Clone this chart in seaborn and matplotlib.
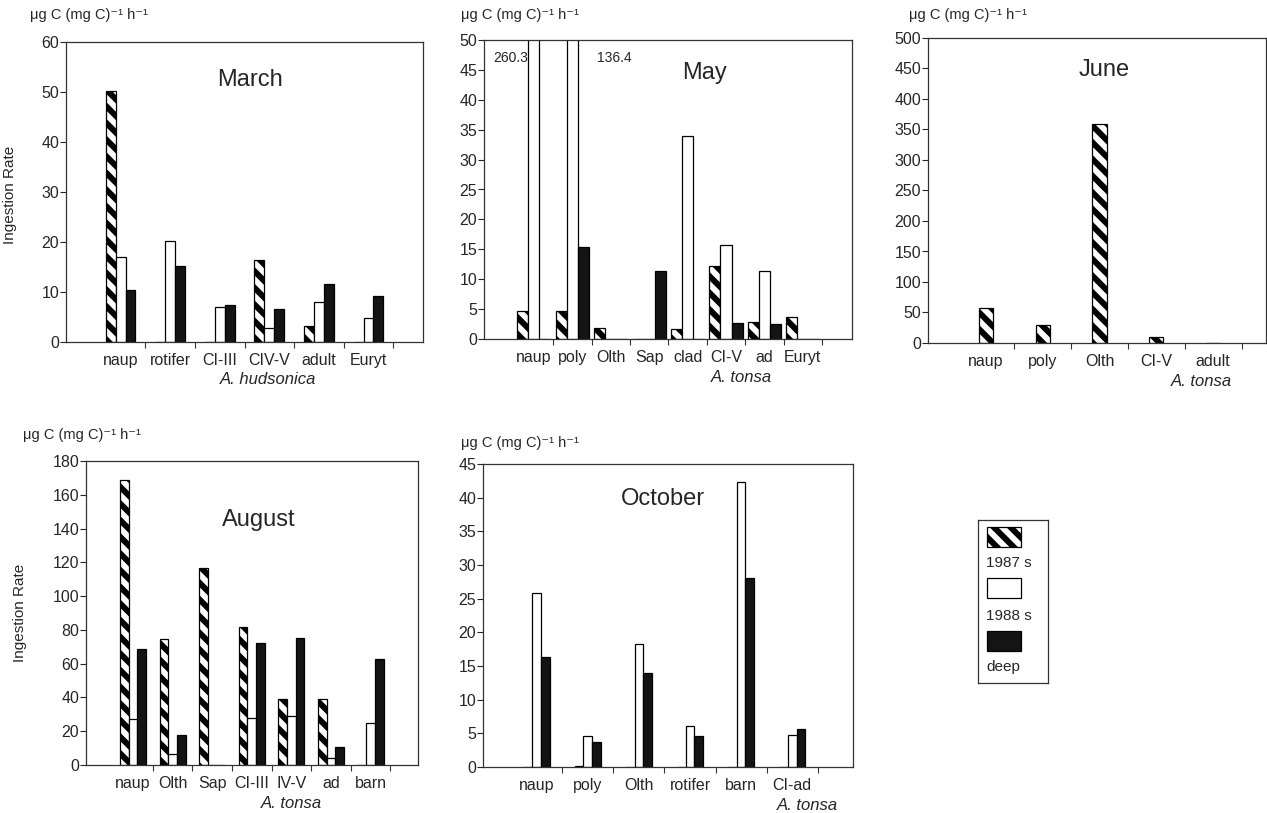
import matplotlib
matplotlib.use("Agg")
import matplotlib.pyplot as plt
from matplotlib.patches import Rectangle
import seaborn as sns
import numpy as np
import pandas as pd

series = ["1987 s", "1988 s", "deep"]
colors = {"1987 s": "white", "1988 s": "white", "deep": "#141414"}

# March, A. hudsonica
march_cats = ["naup", "rotifer", "CI-III", "CIV-V", "adult", "Euryt"]
march_1987 = [50.2, 0, 0, 16.3, 3.1, 0]
march_1988 = [16.9, 20.1, 7.0, 2.7, 8.0, 4.7]
march_deep = [10.4, 15.2, 7.3, 6.5, 11.5, 9.2]

# May, A. tonsa (1988 s naup and poly run off the axis)
may_cats = ["naup", "poly", "Olth", "Sap", "clad", "CI-V", "ad", "Euryt"]
may_1987 = [4.6, 4.6, 1.9, 0, 1.6, 12.2, 2.9, 3.6]
may_1988 = [260.3, 136.4, 0, 0, 33.9, 15.8, 11.3, 0]
may_deep = [0, 15.4, 0, 11.4, 0, 2.7, 2.5, 0]

# June, A. tonsa (1987 s only)
june_cats = ["naup", "poly", "Olth", "CI-V", "adult"]
june_1987 = [57, 29, 359, 10, 0]

# August, A. tonsa
aug_cats = ["naup", "Olth", "Sap", "CI-III", "IV-V", "ad", "barn"]
aug_1987 = [169, 74.4, 116.5, 81.6, 39.3, 38.8, 0]
aug_1988 = [27, 6.5, 0, 28, 29, 4.3, 24.7]
aug_deep = [68.8, 17.6, 0, 72.3, 75.4, 10.4, 62.6]

# October, A. tonsa
oct_cats = ["naup", "poly", "Olth", "rotifer", "barn", "CI-ad"]
oct_1987 = [0, 0.1, 0, 0, 0, 0]
oct_1988 = [25.9, 4.6, 18.2, 6.1, 42.3, 4.8]
oct_deep = [16.4, 3.7, 14.0, 4.6, 28.0, 5.6]

sns.set_theme(style="ticks")
plt.rcParams["font.family"] = ["Liberation Sans", "DejaVu Sans"]
plt.rcParams["hatch.linewidth"] = 4.3
plt.rcParams["hatch.color"] = "black"
HATCH = "\\\\"

W, H = 1267, 813
fig = plt.figure(figsize=(W / 100, H / 100), dpi=100)
fig.patch.set_facecolor("white")


def px_axes(l, t, r, b):
    return fig.add_axes([l / W, (H - b) / H, (r - l) / W, (b - t) / H])


unit = "μg C (mg C)⁻¹ h⁻¹"


def panel(ax, cats, data, width, xlim, ymax, ystep, title, tpos,
          xlab, xlpos, uoff, ylab=None, ylpos=None):
    names = list(data.keys())
    rows = [(c, s, v) for s in names for c, v in zip(cats, data[s])]
    df = pd.DataFrame(rows, columns=["cat", "series", "rate"])
    sns.barplot(df, x="cat", y="rate", hue="series", hue_order=names,
                order=cats, palette=colors, width=width, saturation=1,
                edgecolor="black", linewidth=0.9, errorbar=None,
                legend=False, ax=ax)
    for cont, name in zip(ax.containers, names):
        if name == "1987 s":
            for bar in cont:
                bar.set_hatch(HATCH)
    ax.set_xlim(*xlim)
    ax.set_ylim(0, ymax)
    ax.set_yticks(np.arange(0, ymax + ystep / 2, ystep))
    ax.set_xticks(np.arange(len(cats)) + 0.5, minor=True)
    ax.tick_params(axis="x", which="major", length=0, labelsize=11.5, pad=8)
    ax.tick_params(axis="x", which="minor", length=4, width=0.8,
                   direction="out", color="#333333")
    ax.tick_params(axis="y", length=4, width=0.8, labelsize=11.5, pad=1)
    for sp in ax.spines.values():
        sp.set_visible(True)
        sp.set_linewidth(0.9)
        sp.set_color("#333333")
    ax.set_xlabel("")
    ax.set_ylabel("")
    ax.text(tpos[0], tpos[1], title, transform=ax.transAxes, fontsize=17,
            ha="center", va="center")
    ax.annotate(xlab, xy=(xlpos, 0), xycoords="axes fraction",
                xytext=(0, -38), textcoords="offset pixels", fontsize=12,
                style="italic", ha="center", va="center")
    ax.annotate(unit, xy=(0, 1), xycoords="axes fraction",
                xytext=uoff, textcoords="offset pixels", fontsize=10.5,
                ha="left", va="center")
    if ylab:
        ax.set_ylabel(ylab, fontsize=11)
        ax.yaxis.set_label_coords(*ylpos)
    ax.set_facecolor("white")


ax1 = px_axes(66, 42, 423, 342)
panel(ax1, march_cats,
      {"1987 s": march_1987, "1988 s": march_1988, "deep": march_deep},
      0.6, (-1.1, 6.1), 60, 10, "March", (0.515, 0.873),
      "A. hudsonica", 0.566, (-36, 27), "Ingestion Rate", (-0.137, 0.49))

ax2 = px_axes(484, 40, 852, 339)
panel(ax2, may_cats,
      {"1987 s": may_1987, "1988 s": may_1988, "deep": may_deep},
      0.86, (-1.3, 8.28), 50, 5, "May", (0.60, 0.89),
      "A. tonsa", 0.70, (-23, 25))
# values of the clipped bars
tall = ax2.containers[1]
ax2.text(tall[0].get_x() - 0.02, 47, f"{may_1988[0]:.1f}", fontsize=10,
         ha="right", va="center")
ax2.text(tall[1].get_x() + tall[1].get_width() + 0.5, 47,
         f"{may_1988[1]:.1f}", fontsize=10, ha="left", va="center")

ax3 = px_axes(928, 38, 1266, 343)
panel(ax3, june_cats, {"1987 s": june_1987},
      0.25, (-1.02, 4.93), 500, 50, "June", (0.52, 0.895),
      "A. tonsa", 0.81, (-19, 23))

ax4 = px_axes(86, 461, 418, 765)
panel(ax4, aug_cats,
      {"1987 s": aug_1987, "1988 s": aug_1988, "deep": aug_deep},
      0.66, (-1.19, 7.2), 180, 20, "August", (0.52, 0.806),
      "A. tonsa", 0.62, (-63, 26), "Ingestion Rate", (-0.178, 0.50))

ax5 = px_axes(483, 464, 853, 767)
panel(ax5, oct_cats,
      {"1987 s": oct_1987, "1988 s": oct_1988, "deep": oct_deep},
      0.51, (-1.05, 6.19), 45, 5, "October", (0.486, 0.885),
      "A. tonsa", 0.876, (-22, 21))

# legend box: swatches with the labels under them
lg = px_axes(978, 520, 1048, 683)
lg.set_xlim(978, 1048)
lg.set_ylim(683, 520)
lg.set_xticks([])
lg.set_yticks([])
for sp in lg.spines.values():
    sp.set_visible(True)
    sp.set_linewidth(0.9)
    sp.set_color("#333333")
swatch_tops = [527, 578, 631]
label_ys = [563, 616, 667]
for name, top, ly in zip(series, swatch_tops, label_ys):
    lg.add_patch(Rectangle((987, top), 34, 20, facecolor=colors[name],
                           edgecolor="black", linewidth=0.9,
                           hatch=HATCH if name == "1987 s" else None))
    lg.text(986, ly, name, fontsize=11, ha="left", va="center")

fig.savefig("out.png", dpi=100, facecolor="white")
